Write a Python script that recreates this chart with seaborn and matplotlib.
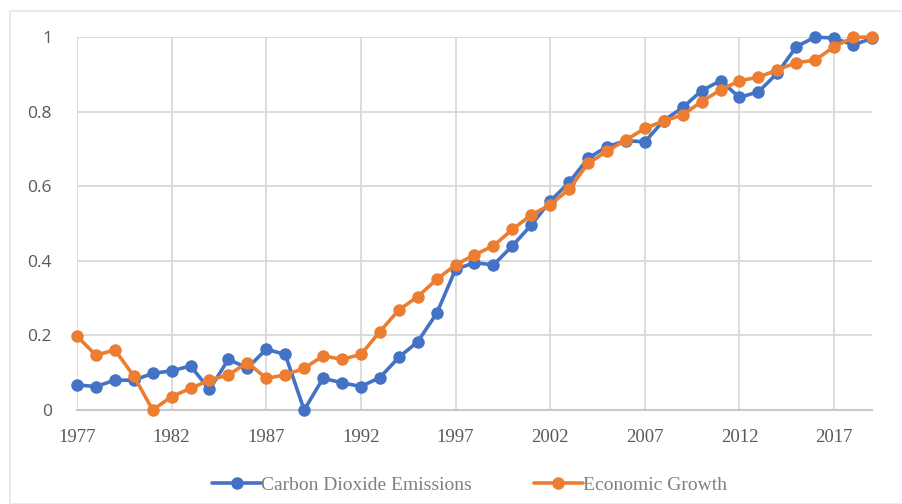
import numpy as np
import matplotlib
matplotlib.use("Agg")
import matplotlib.pyplot as plt
import pandas as pd
import seaborn as sns
from matplotlib.patches import Rectangle

# данные (нормированные значения)
years = list(range(1977, 2020))
co2 = [0.067, 0.063, 0.080, 0.080, 0.098, 0.105, 0.118, 0.055, 0.136, 0.112,
       0.163, 0.149, 0.000, 0.085, 0.073, 0.063, 0.087, 0.141, 0.183, 0.259,
       0.377, 0.395, 0.389, 0.440, 0.496, 0.560, 0.610, 0.675, 0.706, 0.722,
       0.719, 0.776, 0.811, 0.856, 0.883, 0.838, 0.853, 0.903, 0.974, 1.000,
       0.997, 0.979, 0.996]
growth = [0.198, 0.147, 0.161, 0.091, 0.000, 0.036, 0.058, 0.080, 0.094, 0.127,
          0.085, 0.094, 0.112, 0.145, 0.136, 0.149, 0.210, 0.268, 0.304, 0.350,
          0.389, 0.416, 0.440, 0.484, 0.523, 0.550, 0.592, 0.661, 0.694, 0.724,
          0.755, 0.775, 0.791, 0.827, 0.858, 0.883, 0.892, 0.912, 0.931, 0.938,
          0.974, 0.999, 1.000]
series_names = ["Carbon Dioxide Emissions", "Economic Growth"]
colors = ["#4472C4", "#ED7D31"]
x_ticks = list(range(1977, 2018, 5))
y_ticks = [0, 0.2, 0.4, 0.6, 0.8, 1]
y_labels = ["0", "0.2", "0.4", "0.6", "0.8", "1"]

df = pd.DataFrame({
    "year": years * 2,
    "value": co2 + growth,
    "series": [series_names[0]] * len(years) + [series_names[1]] * len(years),
})

sns.set_style("white")
fig = plt.figure(figsize=(9.03, 5.04), dpi=100)
ax = fig.add_axes([77 / 903, 1 - 410 / 504, (872 - 77) / 903, (410 - 37) / 504])

sns.lineplot(data=df, x="year", y="value", hue="series", palette=colors,
             marker="o", markersize=9, markeredgewidth=0, linewidth=2.6,
             ax=ax, legend=False, clip_on=False, zorder=3)

ax.set_xlim(1977, 2019)
ax.set_ylim(0, 1)
ax.set_xticks(x_ticks)
ax.set_yticks(y_ticks)
ax.set_yticklabels(y_labels)
ax.set_xlabel("")
ax.set_ylabel("")
ax.grid(True, color="#d9d9d9", linewidth=1.3)
for s in ["top", "right", "left"]:
    ax.spines[s].set_visible(False)
ax.spines["bottom"].set_color("#c8c8c8")
ax.spines["bottom"].set_linewidth(1.5)
ax.tick_params(axis="x", length=4, color="#d0d0d0", width=1.2, pad=10, labelsize=13.5,
               labelcolor="#595959")
ax.tick_params(axis="y", length=0, pad=18, labelsize=12.5, labelcolor="#595959")
for lab in ax.get_xticklabels():
    lab.set_family("Liberation Serif")
for lab in ax.get_yticklabels():
    lab.set_family("Open Sans")

handles = [plt.Line2D([], [], color=c, marker="o", markersize=9, markeredgewidth=0,
                      linewidth=2.6) for c in colors]
fig.legend(handles, series_names, loc="center", bbox_to_anchor=(0.52, 0.038), ncol=2,
           frameon=False, handlelength=2.5, handletextpad=0.0, columnspacing=3.2,
           prop={"family": "Liberation Serif", "size": 14}, labelcolor="#7f7f7f")

fig.patches.append(Rectangle((10 / 903, 0), 1, 1 - 11 / 504, transform=fig.transFigure,
                             fill=False, edgecolor="#e6e6e6", linewidth=1.2))

fig.savefig("out.png", dpi=100)
